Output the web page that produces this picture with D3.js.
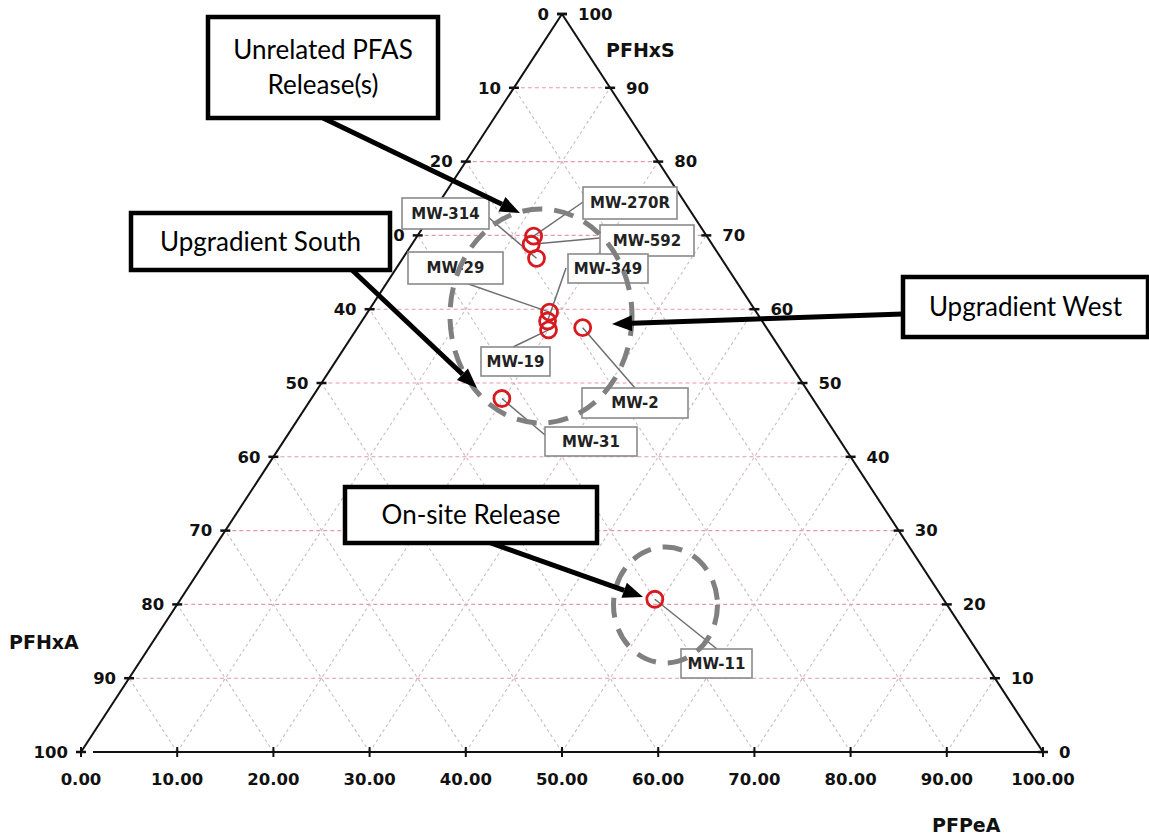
<!DOCTYPE html>
<html>
<head>
<meta charset="utf-8">
<script src="https://cdn.jsdelivr.net/npm/d3@7"></script>
<style>
  body { margin: 0; background: #fff; }
  svg { display: block; }
</style>
</head>
<body>
<div id="chart"></div>
<script>
// ternary data, percent (PFHxS top, PFPeA bottom, PFHxA left)
const wells = ["MW-270R", "MW-592", "MW-314", "MW-29", "MW-349", "MW-19", "MW-2", "MW-31", "MW-11"]
const pfhxs = [69.9, 68.8, 66.9, 59.6, 58.4, 57.2, 57.5, 47.9, 20.7]
const pfpea = [12.1, 12.4, 13.9, 18.9, 19.3, 20.0, 23.4, 19.8, 49.3]
const pfhxa = [18.0, 18.8, 19.2, 21.5, 22.3, 22.8, 19.1, 32.3, 30.0]

const gridLevels = [10, 20, 30, 40, 50, 60, 70, 80, 90]
const tickLevels = [0, 10, 20, 30, 40, 50, 60, 70, 80, 90, 100]

// label boxes for the wells: [cx, cy, w, h, leaderX, leaderY]
const labelBoxes = {
  "MW-270R": [630, 203, 94, 32, 583, 202],
  "MW-592": [647, 240.5, 94, 31, 600, 238],
  "MW-314": [445.5, 213.5, 87, 31, 488, 217],
  "MW-29": [455.5, 268, 95, 32, 457, 280],
  "MW-349": [608, 268.5, 80, 29, 566, 268],
  "MW-19": [515.5, 361.5, 69, 29, 513, 347],
  "MW-2": [635, 403, 106, 30, 635, 388],
  "MW-31": [591, 441.5, 92, 29, 545, 435],
  "MW-11": [716.5, 663.5, 71, 29, 717, 649]
}

// callouts
const callouts = [
  { lines: ["Unrelated PFAS", "Release(s)"], box: [208, 17, 230, 101], from: [323, 118], to: [520, 213] },
  { lines: ["Upgradient South"], box: [131, 213, 259, 57], from: [352, 270], to: [477, 388] },
  { lines: ["Upgradient West"], box: [903, 277, 245, 60], from: [903, 314], to: [612, 324] },
  { lines: ["On-site Release"], box: [345, 487, 252, 56], from: [488, 542], to: [643, 597] }
]
const groups = [
  { cx: 541, cy: 316, rx: 91, ry: 107 },
  { cx: 665.5, cy: 605, rx: 52, ry: 58 }
]

const W = 1149, H = 837
const svg = d3.select("#chart").append("svg").attr("width", W).attr("height", H)

const xs = d3.scaleLinear().domain([0, 100]).range([81, 1043])
const ys = d3.scaleLinear().domain([0, 100]).range([752, 14])
// a = PFPeA, c = PFHxS
const pt = (a, c) => [xs(a + c / 2), ys(c)]

const grid = svg.append("g")
gridLevels.forEach(v => {
  let p1 = pt(0, v), p2 = pt(100 - v, v)
  grid.append("line").attr("x1", p1[0]).attr("y1", p1[1]).attr("x2", p2[0]).attr("y2", p2[1])
    .attr("stroke", "#e59aa6").attr("stroke-width", 1.1).attr("stroke-dasharray", "4,3")
  // constant PFPeA
  let q1 = pt(v, 0), q2 = pt(v, 100 - v)
  grid.append("line").attr("x1", q1[0]).attr("y1", q1[1]).attr("x2", q2[0]).attr("y2", q2[1])
    .attr("stroke", "#d2b9be").attr("stroke-width", 1.1).attr("stroke-dasharray", "3,3")
  // constant PFHxA
  let r1 = pt(100 - v, 0), r2 = pt(0, 100 - v)
  grid.append("line").attr("x1", r1[0]).attr("y1", r1[1]).attr("x2", r2[0]).attr("y2", r2[1])
    .attr("stroke", "#d2b9be").attr("stroke-width", 1.1).attr("stroke-dasharray", "3,3")
})

// triangle edges
const ax = svg.append("g").attr("stroke", "#111").attr("stroke-width", 2)
const A = pt(0, 100), L = pt(0, 0), R = pt(100, 0)
ax.append("line").attr("x1", L[0]).attr("y1", L[1]).attr("x2", A[0]).attr("y2", A[1])
ax.append("line").attr("x1", R[0]).attr("y1", R[1]).attr("x2", A[0]).attr("y2", A[1])
ax.append("line").attr("x1", L[0] + 12).attr("y1", L[1]).attr("x2", R[0]).attr("y2", R[1])

const lbl = svg.append("g").attr("font-family", "DejaVu Sans, sans-serif").attr("font-size", 16.5)
  .attr("font-weight", 600).attr("fill", "#111")
tickLevels.forEach(v => {
  // left edge: 0 at top, 100 at bottom
  let p = pt(0, 100 - v)
  ax.append("line").attr("x1", p[0] - 5).attr("y1", p[1]).attr("x2", p[0] + 5).attr("y2", p[1]).attr("stroke-width", 2.5)
  lbl.append("text").attr("x", p[0] - 13).attr("y", p[1]).attr("dy", "0.35em")
    .attr("text-anchor", "end").text(v)
  // right edge: 100 at top, 0 at bottom
  let q = pt(100 - v, v)
  ax.append("line").attr("x1", q[0] - 5).attr("y1", q[1]).attr("x2", q[0] + 5).attr("y2", q[1]).attr("stroke-width", 2.5)
  lbl.append("text").attr("x", q[0] + 16).attr("y", q[1]).attr("dy", "0.35em").text(v)
  // bottom
  let b = pt(v, 0)
  ax.append("line").attr("x1", b[0]).attr("y1", b[1] - 5).attr("x2", b[0]).attr("y2", b[1] + 5)
  lbl.append("text").attr("x", b[0]).attr("y", b[1] + 27).attr("dy", "0.35em")
    .attr("text-anchor", "middle").text(d3.format(".2f")(v))
})

const titles = svg.append("g").attr("font-family", "DejaVu Sans, sans-serif")
  .attr("font-size", 19).attr("font-weight", "bold").attr("fill", "#111")
titles.append("text").attr("x", 606).attr("y", 50).attr("dy", "0.35em").text("PFHxS")
titles.append("text").attr("x", 9).attr("y", 642).attr("dy", "0.35em").text("PFHxA")
titles.append("text").attr("x", 932).attr("y", 825).attr("dy", "0.35em").text("PFPeA")

// well labels + leaders
const wl = svg.append("g")
wells.forEach((w, i) => {
  let b = labelBoxes[w]
  let p = pt(pfpea[i], pfhxs[i])
  wl.append("line").attr("x1", p[0]).attr("y1", p[1]).attr("x2", b[4]).attr("y2", b[5])
    .attr("stroke", "#6e6e6e").attr("stroke-width", 1.5)
})
wells.forEach(w => {
  let b = labelBoxes[w]
  wl.append("rect").attr("x", b[0] - b[2] / 2).attr("y", b[1] - b[3] / 2)
    .attr("width", b[2]).attr("height", b[3])
    .attr("fill", "#fff").attr("stroke", "#8a8a8a").attr("stroke-width", 1.6)
  wl.append("text").attr("x", b[0]).attr("y", b[1]).attr("dy", "0.36em")
    .attr("text-anchor", "middle").attr("font-family", "DejaVu Sans, sans-serif")
    .attr("font-weight", "bold").attr("font-size", 15).attr("fill", "#222").text(w)
})

// dashed group outlines
svg.append("g").selectAll("ellipse").data(groups).join("ellipse")
  .attr("cx", d => d.cx).attr("cy", d => d.cy).attr("rx", d => d.rx).attr("ry", d => d.ry)
  .attr("fill", "none").attr("stroke", "#808080").attr("stroke-width", 5)
  .attr("stroke-dasharray", "20,12")

// sample points
svg.append("g").selectAll("circle").data(wells).join("circle")
  .attr("cx", (d, i) => pt(pfpea[i], pfhxs[i])[0])
  .attr("cy", (d, i) => pt(pfpea[i], pfhxs[i])[1])
  .attr("r", 8).attr("fill", "none").attr("stroke", "#d71920").attr("stroke-width", 2.8)

// callouts with arrows
const co = svg.append("g")
callouts.forEach(c => {
  let [x1, y1] = c.from, [x2, y2] = c.to
  let ang = Math.atan2(y2 - y1, x2 - x1)
  let hl = 20, hw = 8
  let bx = x2 - hl * Math.cos(ang), by = y2 - hl * Math.sin(ang)
  co.append("line").attr("x1", x1).attr("y1", y1).attr("x2", bx).attr("y2", by)
    .attr("stroke", "#000").attr("stroke-width", 5)
  let px = -Math.sin(ang) * hw, py = Math.cos(ang) * hw
  co.append("path")
    .attr("d", `M${x2},${y2}L${bx + px},${by + py}L${bx - px},${by - py}Z`)
    .attr("fill", "#000")
  let [bx0, by0, bw, bh] = c.box
  co.append("rect").attr("x", bx0).attr("y", by0).attr("width", bw).attr("height", bh)
    .attr("fill", "#fff").attr("stroke", "#000").attr("stroke-width", 4.5)
  let n = c.lines.length
  c.lines.forEach((t, k) => {
    co.append("text").attr("x", bx0 + bw / 2)
      .attr("y", by0 + bh / 2 + (k - (n - 1) / 2) * 35).attr("dy", "0.35em")
      .attr("text-anchor", "middle").attr("font-family", "Lato, sans-serif")
      .attr("font-size", 26).attr("fill", "#000").text(t)
  })
})
</script>
</body>
</html>
